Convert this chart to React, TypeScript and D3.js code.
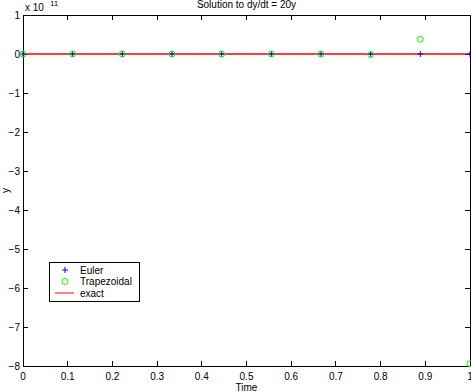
import React from 'react';
import { scaleLinear, line } from 'd3';

// time steps (h = 1/9)
const times = [0, 1 / 9, 2 / 9, 3 / 9, 4 / 9, 5 / 9, 6 / 9, 7 / 9, 8 / 9, 1];
// values in units of 1e11
const euler = [0, 0, 0, 0, 0, 0, 0, 0, 0, 0];
const trapezoidal = [0, 0, 0, 0, 0, 0, 0, -0.018, 0.378, -7.94];
const exactT = [0, 0.25, 0.5, 0.75, 1];
const exactY = [0, 0, 0, 0, 0];
const xTicks = [0, 0.1, 0.2, 0.3, 0.4, 0.5, 0.6, 0.7, 0.8, 0.9, 1];
const yTicks = [1, 0, -1, -2, -3, -4, -5, -6, -7, -8];
const legendLabels = ['Euler', 'Trapezoidal', 'exact'];

const W = 471;
const H = 392;
const left = 23;
const right = 470;
const top = 15;
const bottom = 366;
const font = '"Liberation Sans", Arial, Helvetica, sans-serif';

const fmt = (v: number) => (v < 0 ? '\u2212' + String(-v) : String(v));

export default function App() {
  const x = scaleLinear().domain([0, 1]).range([left, right]);
  const y = scaleLinear().domain([-8, 1]).range([bottom, top]);
  const exactLine = line<number>()
    .x((d, i) => x(exactT[i]))
    .y((d) => y(d));

  const tk = 5;
  return (
    <svg
      width={W}
      height={H}
      style={{ position: 'absolute', left: 0, top: 0, background: '#fff' }}
      fontFamily={font}
      fontSize={10}
    >
      <rect x={0} y={0} width={W} height={H} fill="#fff" />
      {/* axes box */}
      <rect x={left} y={top} width={right - left} height={bottom - top} fill="none" stroke="#000" strokeWidth={1} shapeRendering="crispEdges" />
      {xTicks.map((t) => (
        <g key={'x' + t}>
          <line x1={x(t)} x2={x(t)} y1={bottom} y2={bottom - tk} stroke="#000" shapeRendering="crispEdges" />
          <line x1={x(t)} x2={x(t)} y1={top} y2={top + tk} stroke="#000" shapeRendering="crispEdges" />
          <text x={x(t)} y={bottom + 14} textAnchor="middle">{String(t)}</text>
        </g>
      ))}
      {yTicks.map((t) => (
        <g key={'y' + t}>
          <line x1={left} x2={left + tk} y1={y(t)} y2={y(t)} stroke="#000" shapeRendering="crispEdges" />
          <line x1={right} x2={right - tk} y1={y(t)} y2={y(t)} stroke="#000" shapeRendering="crispEdges" />
          <text x={left - 3} y={y(t) + 4} textAnchor="end">{fmt(t)}</text>
        </g>
      ))}
      {/* exponent label */}
      <text x={25} y={11}>x 10</text>
      <text x={50} y={6} fontSize={8}>11</text>
      {/* title and axis labels */}
      <text x={(left + right) / 2} y={8} textAnchor="middle">Solution to dy/dt = 20y</text>
      <text x={(left + right) / 2} y={391} textAnchor="middle">Time</text>
      <text transform={`translate(9,${(top + bottom) / 2}) rotate(-90)`} textAnchor="middle">y</text>
      {/* exact */}
      <path d={exactLine(exactY) || ''} fill="none" stroke="#ff0000" strokeWidth={1.5} />
      {/* Euler */}
      {euler.map((v, i) => (
        <path
          key={'e' + i}
          d={`M${x(times[i]) - 3},${y(v)}h6M${x(times[i])},${y(v) - 3}v6`}
          stroke="#0000ff"
          strokeWidth={1}
          fill="none"
        />
      ))}
      {/* Trapezoidal */}
      {trapezoidal.map((v, i) => (
        <circle key={'t' + i} cx={x(times[i])} cy={y(v)} r={3} fill="none" stroke="#00ff00" strokeWidth={1} />
      ))}
      {/* legend */}
      <g>
        <rect x={49} y={262} width={90} height={39} fill="#fff" stroke="#000" shapeRendering="crispEdges" />
        {legendLabels.map((lab, i) => {
          const ly = 270 + i * 11.5;
          return (
            <g key={lab}>
              {i === 0 && (
                <path d={`M${65 - 3},${ly}h6M65,${ly - 3}v6`} stroke="#0000ff" fill="none" />
              )}
              {i === 1 && <circle cx={65} cy={ly} r={3} fill="none" stroke="#00ff00" />}
              {i === 2 && <line x1={55} x2={74} y1={ly} y2={ly} stroke="#ff0000" />}
              <text x={80} y={ly + 3.5}>{lab}</text>
            </g>
          );
        })}
      </g>
    </svg>
  );
}
